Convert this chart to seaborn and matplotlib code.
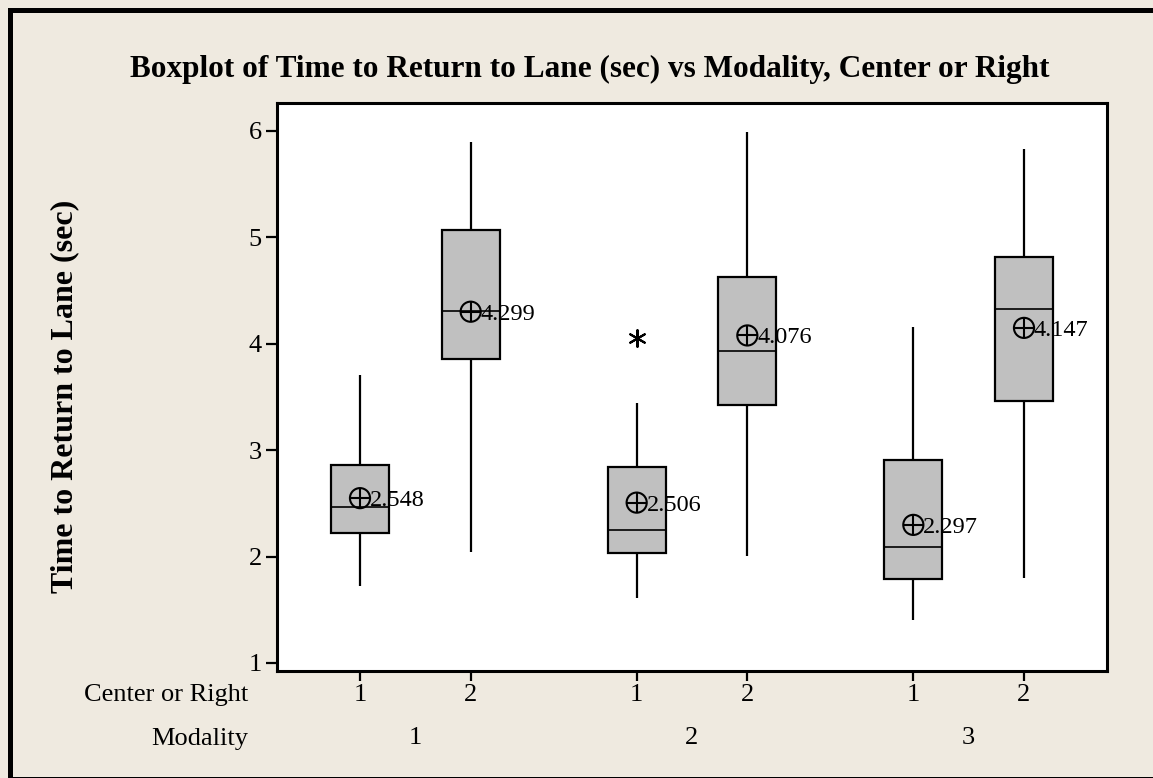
import numpy as np
import pandas as pd
import seaborn as sns
import matplotlib
matplotlib.use("Agg")
import matplotlib.pyplot as plt
from matplotlib.patches import Rectangle
from matplotlib import transforms

# ---------------- data ----------------
modality_order = ["1", "2", "3"]
cr_order = ["1", "2"]
modality = ["1", "1", "2", "2", "3", "3"]
center_right = ["1", "2", "1", "2", "1", "2"]
whisker_low = [1.724, 2.041, 1.609, 2.004, 1.404, 1.799]
q1 = [2.217, 3.855, 2.030, 3.419, 1.788, 3.459]
median = [2.462, 4.305, 2.253, 3.931, 2.087, 4.323]
q3 = [2.857, 5.071, 2.840, 4.625, 2.911, 4.812]
whisker_high = [3.707, 5.889, 3.445, 5.983, 4.158, 5.831]
means = [2.548, 4.299, 2.506, 4.076, 2.297, 4.147]
mean_labels = ["2.548", "4.299", "2.506", "4.076", "2.297", "4.147"]
outlier_modality = ["2"]
outlier_cr = ["1"]
outlier_value = [4.056]
y_ticks = [1, 2, 3, 4, 5, 6]

title = "Boxplot of Time to Return to Lane (sec) vs Modality, Center or Right"
ylabel = "Time to Return to Lane (sec)"

# ---------------- tables for seaborn ----------------
rows = []
for m, c, lo, a, med, b, hi in zip(modality, center_right, whisker_low, q1,
                                   median, q3, whisker_high):
    for v in (lo, a, med, b, hi):
        rows.append({"Modality": m, "Center or Right": c, "Time": v})
box_df = pd.DataFrame(rows)
mean_df = pd.DataFrame({"Modality": modality, "Center or Right": center_right,
                        "Time": means})
out_df = pd.DataFrame({"Modality": outlier_modality,
                       "Center or Right": outlier_cr, "Time": outlier_value})

# ---------------- style ----------------
sns.set_style("ticks")
plt.rcParams["font.family"] = ["Liberation Serif", "DejaVu Serif"]
for key in ("text.color", "axes.labelcolor", "xtick.color", "ytick.color",
            "axes.edgecolor"):
    plt.rcParams[key] = "black"
BG = "#EFEAE0"
BOX = "#C0C0C0"

fig = plt.figure(figsize=(11.53, 7.78), dpi=100, facecolor=BG)
ax = fig.add_axes([277 / 1153, (778 - 671.4) / 778, 830 / 1153, 568.4 / 778])
ax.set_facecolor("white")

group_width = 0.8
box_gap = 0.475

sns.boxplot(data=box_df, x="Modality", y="Time", hue="Center or Right",
            order=modality_order, hue_order=cr_order,
            palette=[BOX, BOX], saturation=1, width=group_width, gap=box_gap,
            whis=(0, 100), linecolor="black", linewidth=1.6, fliersize=0,
            showcaps=False, legend=False, ax=ax,
            medianprops=dict(linewidth=1.2, color="black"),
            whiskerprops=dict(linewidth=1.6, color="black"))

# mean symbols: hollow circle + plus
n_before = len(ax.collections)
sns.stripplot(data=mean_df, x="Modality", y="Time", hue="Center or Right",
              order=modality_order, hue_order=cr_order, dodge=True,
              jitter=False, palette=["black", "black"], marker="o",
              size=14.5, linewidth=1.5, edgecolor="black", legend=False,
              ax=ax, zorder=5)
for coll in ax.collections[n_before:]:
    coll.set_facecolor("none")
    coll.set_edgecolor("black")
    coll.set_linewidth(1.5)
sns.stripplot(data=mean_df, x="Modality", y="Time", hue="Center or Right",
              order=modality_order, hue_order=cr_order, dodge=True,
              jitter=False, palette=["black", "black"], marker="+",
              size=14.5, linewidth=1.5, legend=False, ax=ax, zorder=5)

# outlier
sns.stripplot(data=out_df, x="Modality", y="Time", hue="Center or Right",
              order=modality_order, hue_order=cr_order, dodge=True,
              jitter=False, palette=["black", "black"], marker=(6, 2, 0),
              size=12, linewidth=1.5, legend=False, ax=ax, zorder=5)

# positions of the boxes on the categorical axis
offsets = {c: (i - (len(cr_order) - 1) / 2) * group_width / len(cr_order)
           for i, c in enumerate(cr_order)}
box_pos = [modality_order.index(m) + offsets[c]
           for m, c in zip(modality, center_right)]

for x, yv, lab in zip(box_pos, means, mean_labels):
    ax.annotate(lab, xy=(x, yv), xytext=(7.0, 0), textcoords="offset points",
                ha="left", va="center_baseline", fontsize=17.5, zorder=6,
                color="black")

# axes cosmetics
ax.set_xlim(-0.5, 2.5)
ax.set_ylim(0.921, 6.259)
ax.set_yticks(y_ticks)
ax.set_yticklabels([str(t) for t in y_ticks])
ax.set_xticks(box_pos)
ax.set_xticklabels(center_right)
ax.set_xlabel("")
ax.set_ylabel("")
ax.tick_params(axis="both", labelsize=19, length=8, width=1.6,
               color="black", labelcolor="black", direction="out")
ax.tick_params(axis="x", length=7.5, pad=1.5)
ax.tick_params(axis="y", pad=3)
for sp in ax.spines.values():
    sp.set_visible(True)
    sp.set_linewidth(2.2)
    sp.set_color("black")

# second row of category labels
row1_base = 1 - 701.5 / 778
row2_base = 1 - 744.5 / 778
blend = transforms.blended_transform_factory(ax.transData, fig.transFigure)
for i, m in enumerate(modality_order):
    ax.text(i, row2_base, m, transform=blend, ha="center",
            va="baseline", fontsize=19)
fig.text(248 / 1153, row1_base, "Center or Right", ha="right",
         va="baseline", fontsize=19)
fig.text(248 / 1153, row2_base, "Modality", ha="right",
         va="baseline", fontsize=19)

# titles
fig.text(589.5 / 1153, 1 - 76.7 / 778, title, ha="center", va="baseline",
         fontsize=22.5, fontweight="bold")
fig.text(65 / 1153, 1 - 396 / 778, ylabel, ha="center", va="center",
         rotation=90, fontsize=23, fontweight="bold")

# outer frame
frame = Rectangle((9.5 / 1153, -0.5 / 778), (1170 - 9.5) / 1153,
                  1 - 9 / 778, transform=fig.transFigure, fill=False,
                  edgecolor="black", linewidth=3.6, clip_on=False)
fig.add_artist(frame)

fig.savefig("out.png", dpi=100, facecolor=BG)
